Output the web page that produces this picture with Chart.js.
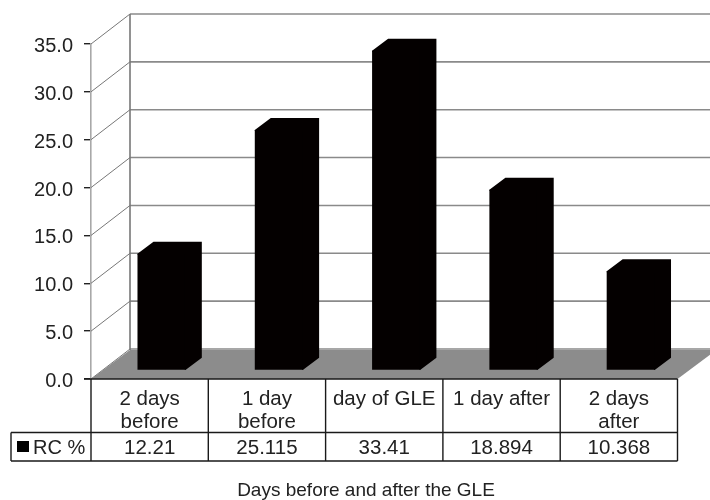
<!DOCTYPE html>
<html>
<head>
<meta charset="utf-8">
<title>RC %</title>
<script src="https://cdn.jsdelivr.net/npm/chart.js@4/dist/chart.umd.js"></script>
<style>
    html, body { margin: 0; padding: 0; background: #fff; }
    canvas { display: block; filter: blur(0.5px); }
</style>
</head>
<body>
<canvas id="rc-chart" width="710" height="500"></canvas>
<script>
const categories = [["2 days", "before"], ["1 day", "before"], ["day of GLE"], ["1 day after"], ["2 days", "after"]];
const rcValues = [12.21, 25.115, 33.41, 18.894, 10.368];
const seriesName = "RC %";
const xTitle = "Days before and after the GLE";
const yTicks = [0, 5, 10, 15, 20, 25, 30, 35];

const font = '"Liberation Sans", Arial, sans-serif';
const textColor = "#222";
const wallDx = 39, wallDy = 30;     // depth of the 3D box
const floorDy = 29;
const barDx = 16, barDy = 12;       // depth of one bar
const barShiftX = 12, barShiftY = 8.5;

const box3d = {
    id: "box3d",
    beforeDatasetsDraw(chart) {
        const ctx = chart.ctx;
        const area = chart.chartArea;
        const y = chart.scales.y;
        ctx.save();

        // back wall and left wall lines
        ctx.strokeStyle = "#8a8a8a";
        ctx.lineWidth = 1.6;
        yTicks.forEach(t => {
            const py = y.getPixelForValue(t);
            ctx.beginPath();
            ctx.moveTo(area.left + wallDx, py - wallDy);
            ctx.lineTo(710, py - wallDy);
            ctx.stroke();
        });
        ctx.lineWidth = 1;
        ctx.strokeStyle = "#777";
        yTicks.forEach(t => {
            const py = y.getPixelForValue(t);
            ctx.beginPath();
            ctx.moveTo(area.left, py);
            ctx.lineTo(area.left + wallDx, py - wallDy);
            ctx.stroke();
        });
        ctx.lineWidth = 1.6;
        ctx.beginPath();
        ctx.moveTo(area.left + wallDx, y.getPixelForValue(35) - wallDy);
        ctx.lineTo(area.left + wallDx, area.bottom - floorDy);
        ctx.stroke();

        // floor
        ctx.fillStyle = "#8c8c8c";
        ctx.beginPath();
        ctx.moveTo(area.left, area.bottom);
        ctx.lineTo(area.left + wallDx, area.bottom - floorDy);
        ctx.lineTo(area.right + wallDx, area.bottom - floorDy);
        ctx.lineTo(area.right, area.bottom);
        ctx.closePath();
        ctx.fill();
        ctx.restore();
    },
    beforeDatasetDraw(chart) {
        chart.ctx.save();
        chart.ctx.translate(barShiftX, -barShiftY);
    },
    afterDatasetDraw(chart, args) {
        const ctx = chart.ctx;
        ctx.fillStyle = "#040000";
        args.meta.data.forEach(bar => {
            const l = bar.x - bar.width / 2, r = bar.x + bar.width / 2;
            // runs a pixel into the front face so no seam shows
            ctx.beginPath();
            ctx.moveTo(l, bar.y + 1);
            ctx.lineTo(l, bar.y);
            ctx.lineTo(l + barDx, bar.y - barDy);
            ctx.lineTo(r + barDx, bar.y - barDy);
            ctx.lineTo(r + barDx, bar.base - barDy);
            ctx.lineTo(r, bar.base);
            ctx.lineTo(r - 1, bar.base);
            ctx.lineTo(r - 1, bar.y + 1);
            ctx.closePath();
            ctx.fill();
        });
        ctx.restore();
    }
};

const dataTable = {
    id: "dataTable",
    afterDraw(chart) {
        const ctx = chart.ctx;
        const area = chart.chartArea;
        const x = chart.scales.x;
        const colW = x.width / categories.length;
        const top = area.bottom, mid = 432.5, bottom = 461;
        const labelLeft = 11;

        ctx.save();
        ctx.strokeStyle = "#1a1a1a";
        ctx.lineWidth = 1.4;
        ctx.beginPath();
        ctx.moveTo(area.left - 7, top);
        ctx.lineTo(area.right, top);
        ctx.moveTo(labelLeft, mid);
        ctx.lineTo(area.right, mid);
        ctx.moveTo(labelLeft, bottom);
        ctx.lineTo(area.right, bottom);
        ctx.moveTo(labelLeft, mid);
        ctx.lineTo(labelLeft, bottom);
        for (let i = 0; i <= categories.length; i++) {
            const px = area.left + colW * i;
            ctx.moveTo(px, top);
            ctx.lineTo(px, bottom);
        }
        ctx.stroke();

        ctx.fillStyle = textColor;
        ctx.font = "20.5px " + font;
        ctx.textAlign = "center";
        ctx.textBaseline = "middle";
        categories.forEach((lines, i) => {
            const px = x.getPixelForTick(i);
            lines.forEach((line, j) => ctx.fillText(line, px, 399 + j * 23));
            ctx.fillText(String(rcValues[i]), px, 448);
        });

        // series key and name
        ctx.fillStyle = "#000";
        ctx.fillRect(17, 441, 12, 11);
        ctx.fillStyle = textColor;
        ctx.textAlign = "left";
        ctx.font = "20px " + font;
        ctx.fillText(seriesName, 33, 448);

        ctx.font = "19px " + font;
        ctx.textAlign = "center";
        ctx.fillText(xTitle, 366, 491);
        ctx.restore();
    }
};

new Chart(document.getElementById("rc-chart"), {
    type: "bar",
    data: {
        labels: categories,
        datasets: [{
            label: seriesName,
            data: rcValues,
            backgroundColor: "#040000",
            barPercentage: 0.412,
            categoryPercentage: 1
        }]
    },
    options: {
        responsive: false,
        animation: false,
        layout: { padding: { top: 44, right: 32.5 } },
        plugins: { legend: { display: false }, tooltip: { enabled: false } },
        scales: {
            x: {
                ticks: { display: false },
                grid: { display: false },
                border: { display: false },
                afterFit(scale) { scale.height = 121; }
            },
            y: {
                min: 0,
                max: 35,
                ticks: {
                    stepSize: 5,
                    padding: 11,
                    color: textColor,
                    // empty first line nudges the label down a little, like the reference
                    font: { family: font, size: 20, lineHeight: 0.25 },
                    callback: value => ["", value.toFixed(1)]
                },
                grid: { drawOnChartArea: false, drawTicks: true, tickLength: 7, color: "#222", lineWidth: 1.4 },
                border: { color: "#a8a8a8", width: 1.6 },
                afterFit(scale) { scale.width = 91; }
            }
        }
    },
    plugins: [box3d, dataTable]
});
</script>
</body>
</html>
